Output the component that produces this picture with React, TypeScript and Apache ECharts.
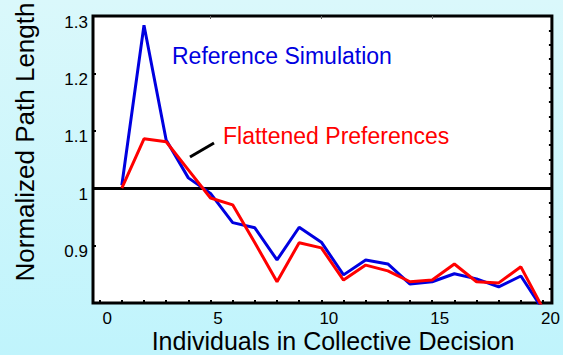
import React, { useEffect, useRef } from "react";
import * as echarts from "echarts";

// Group size (individuals in collective decision)
const groupSizes = [1, 2, 3, 4, 5, 6, 7, 8, 9, 10, 11, 12, 13, 14, 15, 16, 17, 18, 19, 20];
// Normalized path length – reference simulation (blue)
const referenceSimulation = [
  1.005, 1.284, 1.084, 1.018, 0.991, 0.94, 0.931, 0.875, 0.932, 0.906,
  0.849, 0.875, 0.868, 0.833, 0.837, 0.851, 0.842, 0.828, 0.847, 0.788,
];
// Normalized path length – flattened preferences (red)
const flattenedPreferences = [
  1.0, 1.086, 1.081, 1.032, 0.983, 0.971, 0.905, 0.837, 0.905, 0.896,
  0.84, 0.866, 0.856, 0.837, 0.84, 0.868, 0.837, 0.835, 0.863, 0.79,
];
const xTickValues = [0, 1, 2, 3, 4, 5, 6, 7, 8, 9, 10, 11, 12, 13, 14, 15, 16, 17, 18, 19, 20];
const xLabelValues = [0, 5, 10, 15, 20];
const xTopTickValues = [5, 10, 15];
const yLabelValues = [0.9, 1.0, 1.1, 1.2, 1.3];
const yLeftTickValues = [0.9, 1.1, 1.2];
const yRightTickValues = [
  0.825, 0.85, 0.875, 0.9, 0.925, 0.95, 0.975, 1.025, 1.05, 1.075, 1.1,
  1.125, 1.15, 1.175, 1.2, 1.225, 1.25, 1.275,
];
const referenceLevel = 1;

const FONT = "'Liberation Sans', Arial, Helvetica, sans-serif";

export default function App() {
  const ref = useRef<HTMLDivElement>(null);
  useEffect(() => {
    if (!ref.current) return;
    const chart = echarts.init(ref.current, null, { renderer: "svg" });
    const pairs = (ys: number[]) => groupSizes.map((x, i) => [x, ys[i]]);
    const hiddenLine = { show: false, onZero: false };
    chart.setOption({
      animation: false,
      backgroundColor: new echarts.graphic.LinearGradient(0, 0, 0, 1, [
        { offset: 0, color: "#daf8fb" },
        { offset: 1, color: "#c0f4fc" },
      ]),
      textStyle: { fontFamily: FONT },
      grid: {
        left: 93,
        right: 8,
        top: 16,
        bottom: 52,
        show: true,
        backgroundColor: "#ffffff",
        borderColor: "#000000",
        borderWidth: 3,
      },
      xAxis: [
        {
          type: "value",
          position: "bottom",
          min: -0.3,
          max: 20.4,
          axisLine: hiddenLine,
          splitLine: { show: false },
          axisTick: {
            show: true,
            inside: true,
            length: 3,
            customValues: xTickValues,
            lineStyle: { color: "#000", width: 2 },
          },
          axisLabel: {
            show: true,
            customValues: xLabelValues,
            fontSize: 17,
            lineHeight: 17,
            color: "#000",
            fontFamily: FONT,
            margin: 7,
            padding: [0, 0, 0, 15],
          },
        },
        {
          type: "value",
          position: "top",
          min: -0.3,
          max: 20.4,
          axisLine: hiddenLine,
          splitLine: { show: false },
          axisLabel: { show: false },
          axisTick: {
            show: true,
            inside: true,
            length: 3,
            customValues: xTopTickValues,
            lineStyle: { color: "#666", width: 1 },
          },
        },
      ],
      yAxis: [
        {
          type: "value",
          position: "left",
          min: 0.8,
          max: 1.3,
          axisLine: hiddenLine,
          splitLine: { show: false },
          axisTick: {
            show: true,
            inside: true,
            length: 3,
            customValues: yLeftTickValues,
            lineStyle: { color: "#000", width: 2 },
          },
          axisLabel: {
            show: true,
            customValues: yLabelValues,
            fontSize: 17,
            color: "#000",
            fontFamily: FONT,
            margin: 5,
            verticalAlign: "top",
            lineHeight: 12,
            formatter: (v: number) => String(Math.round(v * 10) / 10),
          },
        },
        {
          type: "value",
          position: "right",
          min: 0.8,
          max: 1.3,
          axisLine: hiddenLine,
          splitLine: { show: false },
          axisLabel: { show: false },
          axisTick: {
            show: true,
            inside: true,
            length: 3,
            customValues: yRightTickValues,
            lineStyle: { color: "#000", width: 2 },
          },
        },
      ],
      series: [
        {
          type: "line",
          data: [],
          z: 1,
          markLine: {
            silent: true,
            symbol: "none",
            z: 1,
            label: { show: false },
            lineStyle: { color: "#000", width: 3, type: "solid" },
            data: [{ yAxis: referenceLevel }],
          },
        },
        {
          name: "Reference Simulation",
          type: "line",
          data: pairs(referenceSimulation),
          showSymbol: false,
          symbol: "none",
          clip: true,
          z: 3,
          lineStyle: { color: "#0000e0", width: 3 },
        },
        {
          name: "Flattened Preferences",
          type: "line",
          data: pairs(flattenedPreferences),
          showSymbol: false,
          symbol: "none",
          clip: true,
          z: 3,
          lineStyle: { color: "#ff0000", width: 3 },
        },
      ],
      graphic: [
        {
          type: "text",
          left: 172,
          top: 44,
          style: {
            text: "Reference Simulation",
            fill: "#0000e0",
            font: `23px ${FONT}`,
          },
        },
        {
          type: "text",
          left: 223,
          top: 124,
          style: {
            text: "Flattened Preferences",
            fill: "#ff0000",
            font: `23px ${FONT}`,
          },
        },
        {
          type: "line",
          shape: { x1: 190, y1: 157, x2: 214, y2: 143 },
          style: { stroke: "#000", lineWidth: 3 },
        },
        {
          type: "text",
          x: 333,
          y: 341,
          style: {
            text: "Individuals in Collective Decision",
            fill: "#000",
            font: `25px ${FONT}`,
            lineHeight: 21,
            align: "center",
            verticalAlign: "middle",
          },
        },
        {
          type: "text",
          x: 25,
          y: 142,
          rotation: Math.PI / 2,
          style: {
            text: "Normalized Path Length",
            fill: "#000",
            font: `26px ${FONT}`,
            align: "center",
            verticalAlign: "middle",
          },
        },
      ],
    });
    return () => chart.dispose();
  }, []);
  return (
    <div
      ref={ref}
      style={{ position: "fixed", left: 0, top: 0, width: 563, height: 355 }}
    />
  );
}
